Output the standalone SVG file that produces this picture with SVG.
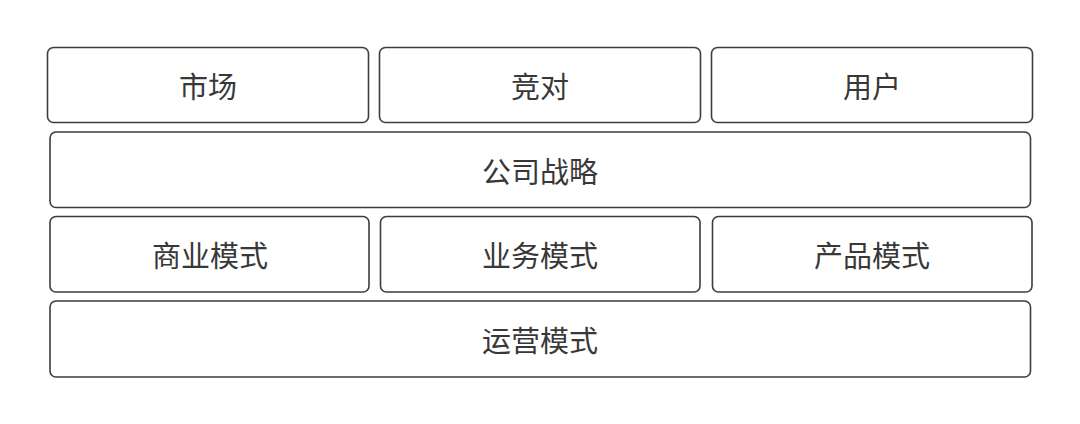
<svg xmlns="http://www.w3.org/2000/svg" width="1080" height="424" viewBox="0 0 1080 424">
<style>
.box{fill:#ffffff;stroke:#3a3d42;stroke-width:1.6}
.lbl{font-family:"Noto Sans CJK SC","Noto Sans",sans-serif;font-size:29px;fill:#383838;text-anchor:middle;dominant-baseline:central}
</style>
<rect width="1080" height="424" fill="#ffffff"/>
<g id="market"><rect class="box" x="47.5" y="47.5" width="321" height="75" rx="6"/><text class="lbl" x="208" y="85">市场</text></g>
<g id="competitor"><rect class="box" x="379.5" y="47.5" width="321" height="75" rx="6"/><text class="lbl" x="540" y="85">竞对</text></g>
<g id="user"><rect class="box" x="711.5" y="47.5" width="321" height="75" rx="6"/><text class="lbl" x="872" y="85">用户</text></g>
<g id="strategy"><rect class="box" x="50" y="132" width="980.5" height="75.5" rx="6"/><text class="lbl" x="540" y="170">公司战略</text></g>
<g id="business-model"><rect class="box" x="50" y="216.5" width="319" height="75.5" rx="6"/><text class="lbl" x="210" y="254">商业模式</text></g>
<g id="operation-model"><rect class="box" x="380.5" y="216.5" width="319.5" height="75.5" rx="6"/><text class="lbl" x="540" y="254">业务模式</text></g>
<g id="product-model"><rect class="box" x="712.5" y="216.5" width="319.5" height="75.5" rx="6"/><text class="lbl" x="872" y="254">产品模式</text></g>
<g id="ops-model"><rect class="box" x="50" y="301" width="980.5" height="76" rx="6"/><text class="lbl" x="540" y="339">运营模式</text></g>
<g id="connectors"></g>
</svg>
